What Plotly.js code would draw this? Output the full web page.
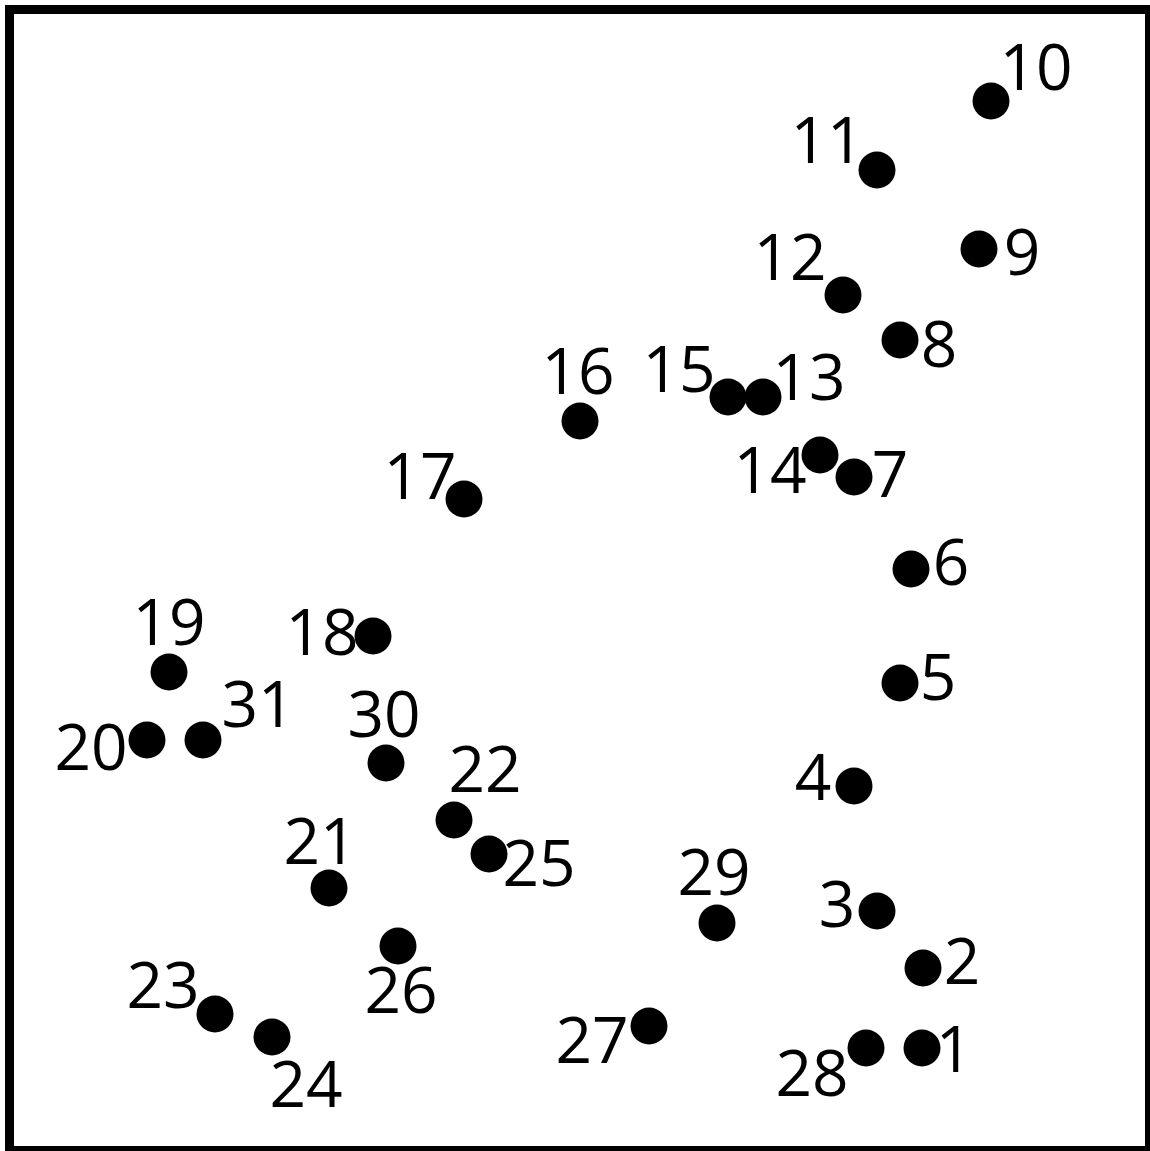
<!DOCTYPE html>
<html>
<head>
<meta charset="utf-8">
<script src="https://cdn.plot.ly/plotly-3.0.1.min.js"></script>
<style>html,body{margin:0;padding:0;background:#fff;}#chart{width:1150px;height:1151px;}</style>
</head>
<body>
<div id="chart"></div>
<script>
// Dot numbers
const dotNumbers = [1,2,3,4,5,6,7,8,9,10,11,12,13,14,15,16,17,18,19,20,21,22,23,24,25,26,27,28,29,30,31];
// Dot centres (page coordinates)
const dotX = [922,923,877,854,900,911,854,900,979,991,877,843,763,820,728,580,464,373,169,147,329,454,215,272,489,398,649,866,717,386,203];
const dotY = [1048,968,911,786,683,569,477,340,249,101,170,295,397,455,397,421,499,636,672,740,888,820,1014,1037,854,946,1026,1048,923,763,740];
// Label anchor points
const labelX = [954,962,837,813,938,951,890,939,1022,1036,827,790,809,770,679,578,420,322,169,91,320,485,163,306,539,401,592,812,714,384,258];
const labelY = [1056,968,911,784,684,569,481,351,259,74,147,264,384,477,376,378,483,639,629,754,848,776,992,1091,870,997,1047,1080,879,721,711];

const FONT = '"Open Sans", "Noto Sans", "DejaVu Sans", sans-serif';

const traces = [
  {
    type: 'scatter', mode: 'markers',
    x: dotX, y: dotY,
    marker: {size: 37, color: '#000', line: {width: 0}},
    hoverinfo: 'skip', showlegend: false
  },
  {
    type: 'scatter', mode: 'text',
    x: labelX, y: labelY,
    text: dotNumbers.map(String),
    textposition: 'middle center',
    textfont: {family: FONT, size: 64, color: '#000'},
    hoverinfo: 'skip', showlegend: false
  }
];

const axisCommon = {
  showgrid: false, zeroline: false, showticklabels: false, ticks: '',
  showline: true, mirror: true, linecolor: '#000', linewidth: 9,
  fixedrange: true
};

const layout = {
  width: 1150, height: 1151,
  margin: {l: 14, r: 5, t: 14, b: 5, pad: 0},
  paper_bgcolor: '#fff', plot_bgcolor: '#fff',
  xaxis: Object.assign({range: [14, 1145]}, axisCommon),
  yaxis: Object.assign({range: [1146, 14]}, axisCommon),
  showlegend: false
};

Plotly.newPlot('chart', traces, layout, {displayModeBar: false, staticPlot: true});
</script>
</body>
</html>
